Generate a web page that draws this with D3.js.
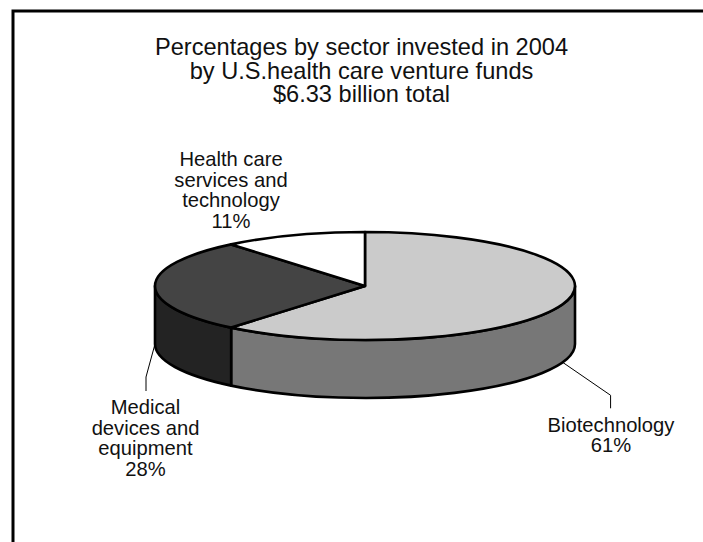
<!DOCTYPE html>
<html>
<head>
<meta charset="utf-8">
<script src="https://cdn.jsdelivr.net/npm/d3@7/dist/d3.min.js"></script>
<style>
html,body{margin:0;padding:0;background:#fff;overflow:hidden}
svg{display:block}
text{font-family:"Liberation Sans",Arial,sans-serif;fill:#111;text-anchor:middle}
</style>
</head>
<body>
<svg id="c" width="703" height="542"></svg>
<script>
const titleLines = ["Percentages by sector invested in 2004", "by U.S.health care venture funds", "$6.33 billion total"];
const categories = ["Biotechnology", "Medical devices and equipment", "Health care services and technology"];
const values = [61, 28, 11];
const labelLines = [["Biotechnology", "61%"], ["Medical", "devices and", "equipment", "28%"], ["Health care", "services and", "technology", "11%"]];
const topColors = ["#cbcbcb", "#444444", "#ffffff"];
const sideColors = ["#777777", "#232323", "#ffffff"];

const W = 703, H = 542;
const cx = 365, cy = 286, rx = 210, ry = 54, depth = 58;
const svg = d3.select("#c");

// frame: top and left rules only
svg.append("path").attr("d", `M13,${H}V11H${W}`).attr("fill", "none").attr("stroke", "#000").attr("stroke-width", 3);

// title
svg.append("g").selectAll("text").data(titleLines).join("text")
  .attr("x", 361.5).attr("y", (d, i) => 55 + i * 23.5)
  .attr("font-size", 23.6).text(d => d);

// projection of the unit circle onto the tilted ellipse
const sx = d3.scaleLinear().domain([-1, 1]).range([cx - rx, cx + rx]);
const sy = d3.scaleLinear().domain([-1, 1]).range([cy - ry, cy + ry]);
const pt = (a, dz = 0) => [sx(Math.sin(a)), sy(-Math.cos(a)) + dz];

const arcs = d3.pie().sort(null).startAngle(0).endAngle(2 * Math.PI)(values);

// side walls (only the front half of the disc is visible)
const g = svg.append("g");
const wall = (a0, a1) => {
  const [x0, y0] = pt(a0), [x1, y1] = pt(a1);
  return `M${x0},${y0}A${rx},${ry} 0 0 1 ${x1},${y1}L${x1},${y1 + depth}A${rx},${ry} 0 0 0 ${x0},${y0 + depth}Z`;
};
g.selectAll("path.side").data(arcs).join("path").attr("class", "side")
  .each(function (d, i) {
    const a0 = Math.max(d.startAngle, Math.PI / 2), a1 = Math.min(d.endAngle, 3 * Math.PI / 2);
    if (a1 > a0) d3.select(this).attr("d", wall(a0, a1));
  })
  .attr("fill", (d, i) => sideColors[i]).attr("stroke", "#000").attr("stroke-width", 2.6).attr("stroke-linejoin", "round");

// top face
const arcGen = d3.arc().innerRadius(0).outerRadius(rx);
g.append("g").attr("transform", `translate(${cx},${cy}) scale(1,${ry / rx})`)
  .selectAll("path").data(arcs).join("path")
  .attr("d", arcGen).attr("fill", (d, i) => topColors[i])
  .attr("stroke", "#000").attr("stroke-width", 2.6).attr("stroke-linejoin", "round")
  .attr("vector-effect", "non-scaling-stroke");

// leader lines start from each slice's midpoint on the lower rim
const mid = d => (d.startAngle + d.endAngle) / 2;
const leaders = [[[48, 33], [48, 46]], [[-9, 33], [-9, 47]]];
leaders.forEach((steps, i) => {
  const [x, y] = pt(mid(arcs[i]), depth);
  const line = [[x, y], ...steps.map(s => [x + s[0], y + s[1]])];
  svg.append("path").attr("d", d3.line()(line)).attr("fill", "none").attr("stroke", "#000").attr("stroke-width", 1);
});

// labels
const labelPos = [[611, 431.5], [145.5, 414], [231, 166]];
labelLines.forEach((lines, i) => {
  svg.append("g").selectAll("text").data(lines).join("text")
    .attr("x", labelPos[i][0]).attr("y", (d, j) => labelPos[i][1] + j * 20.6)
    .attr("font-size", 20.2).text(d => d);
});
</script>
</body>
</html>
